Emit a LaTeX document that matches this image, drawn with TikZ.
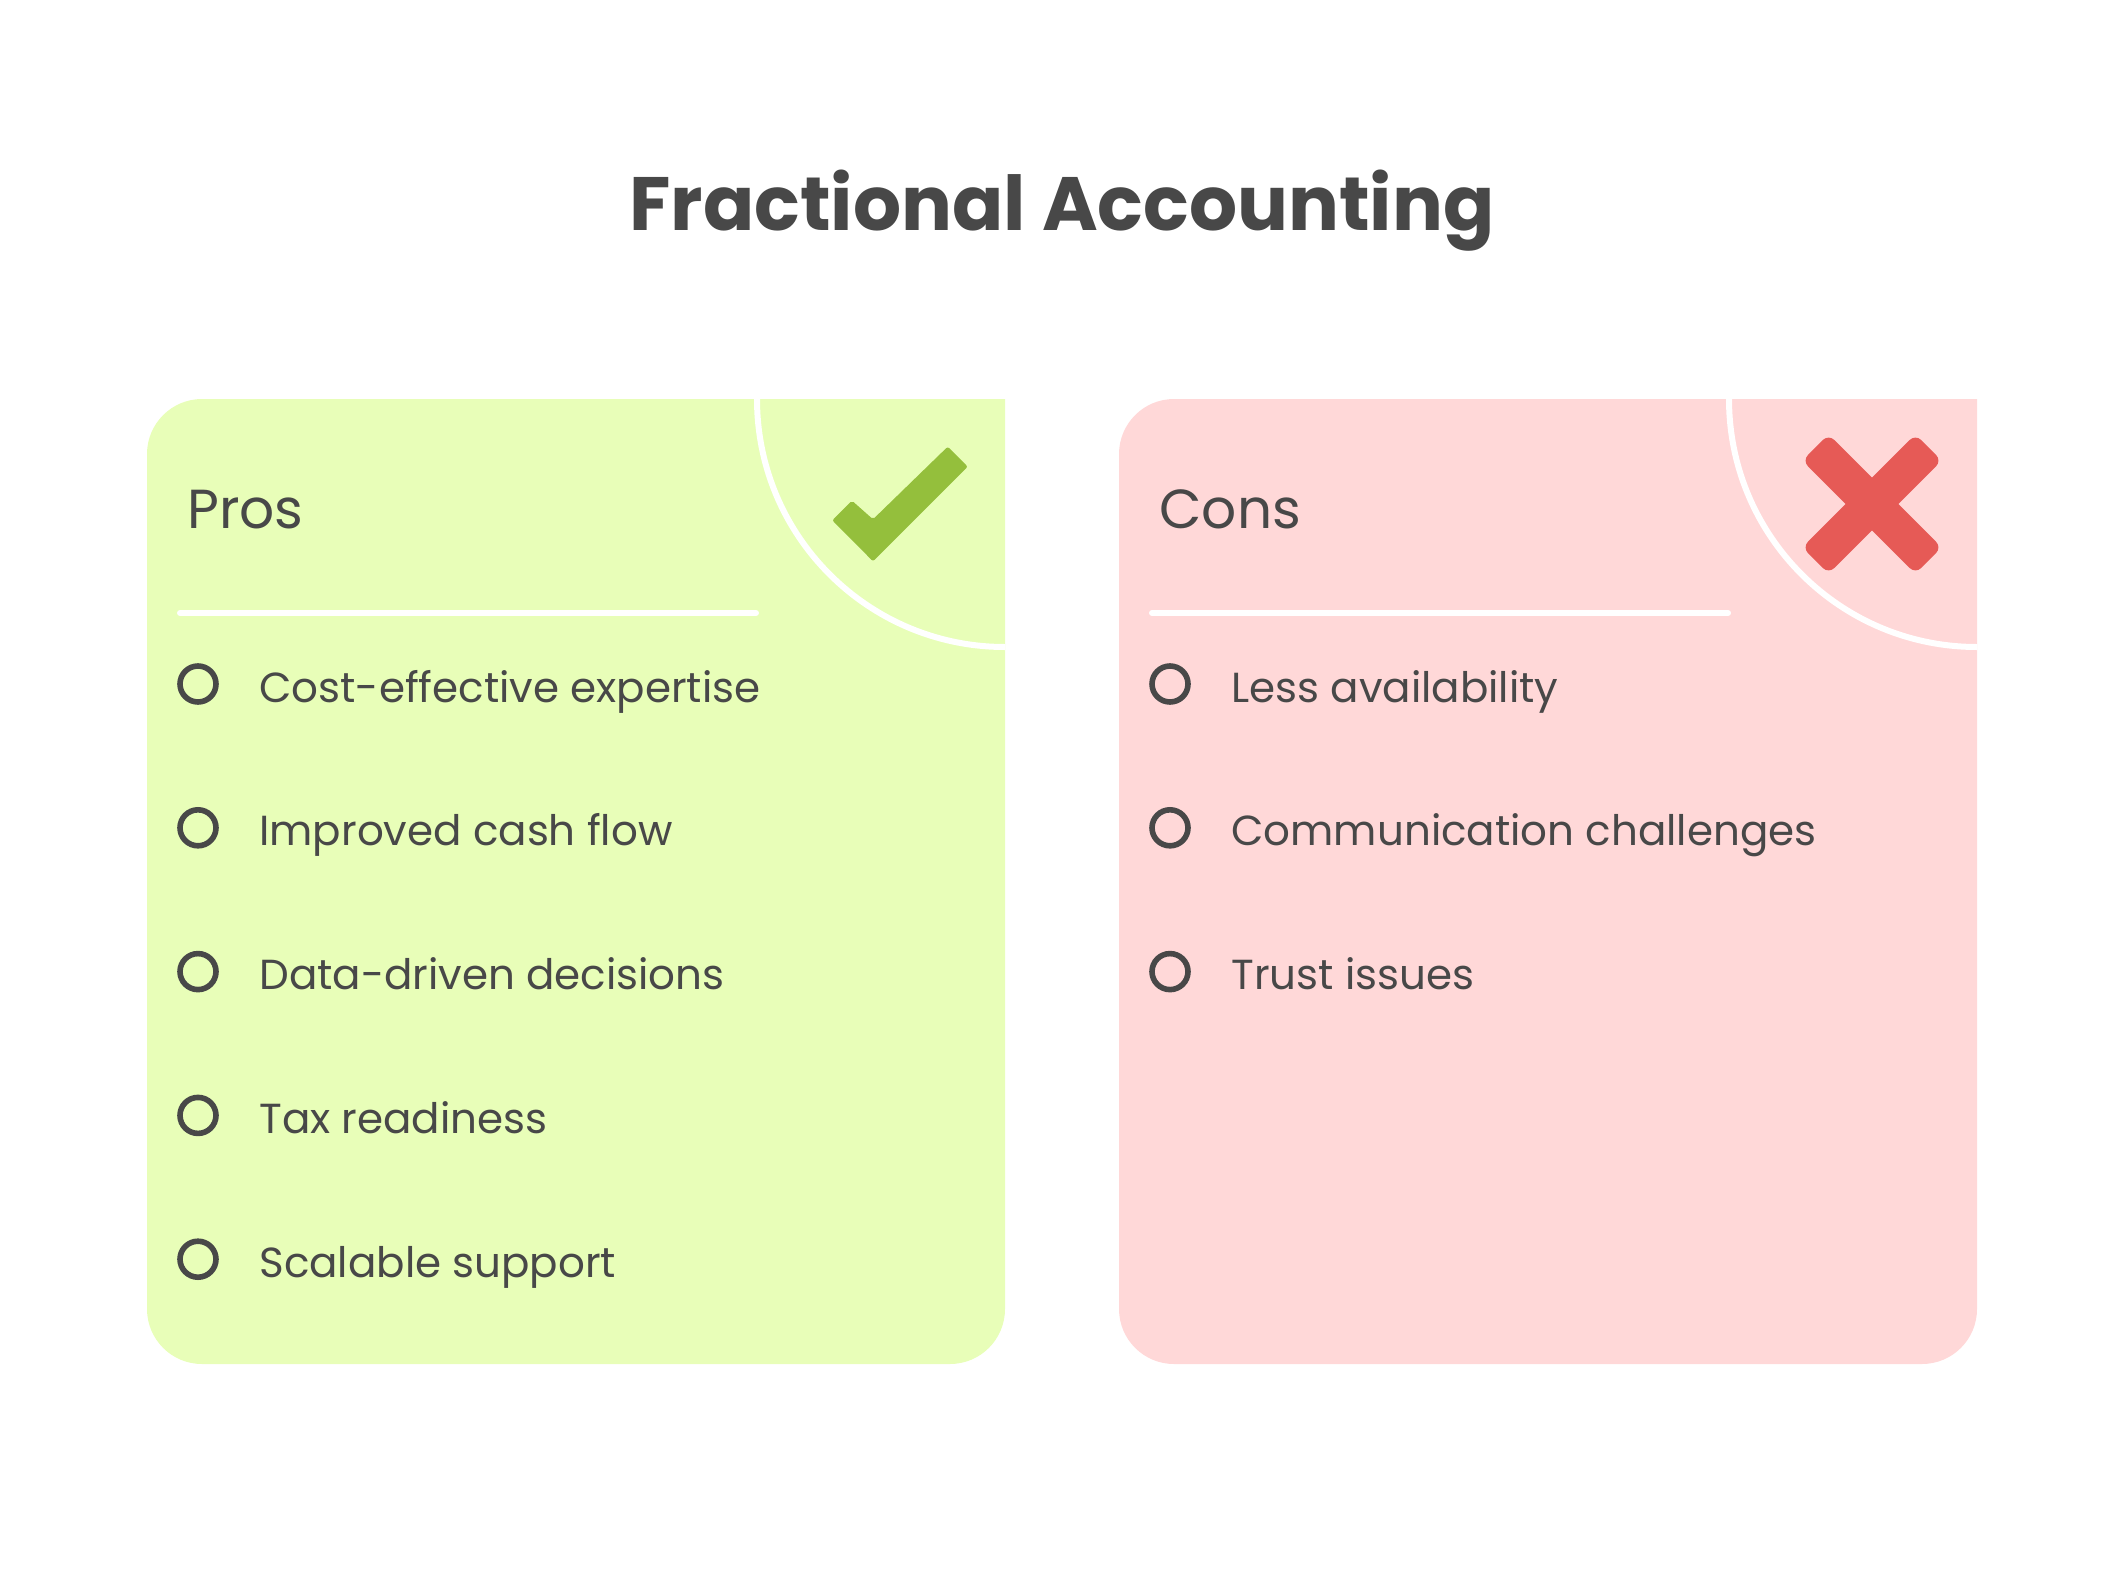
\documentclass[tikz,border=0pt]{standalone}
\usepackage{fontspec}
\setmainfont{Poppins}
\definecolor{inkgrey}{HTML}{484848}
\definecolor{prosfill}{HTML}{E8FEB8}
\definecolor{consfill}{HTML}{FFD8D8}
\definecolor{checkgreen}{HTML}{94BF3C}
\definecolor{crossred}{HTML}{E65A56}
\begin{document}
\begin{tikzpicture}[
        x=0.5pt, y=-0.5pt,
        titletext/.style={text=inkgrey, inner sep=0pt, font=\fontsize{37.8}{42}\selectfont\bfseries},
        headtext/.style={text=inkgrey, inner sep=0pt, anchor=base west, font=\fontsize{27.5}{32}\selectfont},
        itemtext/.style={text=inkgrey, inner sep=0pt, anchor=base west, font=\fontsize{21}{25}\selectfont},
        bullet/.style={circle, draw=inkgrey, line width=2.8pt, minimum size=18pt, inner sep=0pt},
        whiteline/.style={white, line width=3pt},
        crossarm/.style={rectangle, fill=crossred, rounded corners=4pt, minimum width=80pt, minimum height=18.6pt, inner sep=0pt}
    ]
        \useasboundingbox (0,0) rectangle (2124,1584);
        \node[titletext, anchor=base] (title) at (1062,230) {Fractional Accounting};

        % The two cards
        \foreach \x/\fillcol/\head in {0/prosfill/Pros, 972/consfill/Cons} {
            \fill[\fillcol, rounded corners=27.5pt] (\x+1005,700) -- (\x+1005,1364)
                -- (\x+147,1364) -- (\x+147,399) -- (\x+600,399)
                [sharp corners] -- (\x+1005,399) -- cycle;
            \draw[whiteline] (\x+757,399) arc[start angle=180, end angle=270, radius=124pt];
            \draw[whiteline, line cap=round] (\x+180,613) -- (\x+756,613);
            \node[headtext] (\head) at (\x+187,528) {\head};
        }

        % Pros list
        \foreach \i/\itemlabel in {
            0/Cost-effective expertise,
            1/Improved cash flow,
            2/Data-driven decisions,
            3/Tax readiness,
            4/Scalable support
        } {
            \node[bullet] (prosdot\i) at (198,684+143.8*\i) {};
            \node[itemtext] (prositem\i) at (259,702+143.8*\i) {\itemlabel};
        }

        % Cons list
        \foreach \i/\itemlabel in {
            0/Less availability,
            1/Communication challenges,
            2/Trust issues
        } {
            \node[bullet] (consdot\i) at (1170,684+143.8*\i) {};
            \node[itemtext] (consitem\i) at (1231,702+143.8*\i) {\itemlabel};
        }

        % Check mark
        \fill[checkgreen, rounded corners=1pt] (947.7,446.7) -- (967.7,466.7) -- (873,561.3)
            -- (832.3,520.3) -- (852,500.7) -- (873,519.3) -- cycle;

        % Cross
        \node[crossarm, rotate=45] (crossa) at (1872,504) {};
        \node[crossarm, rotate=-45] (crossb) at (1872,504) {};
\end{tikzpicture}
\end{document}
